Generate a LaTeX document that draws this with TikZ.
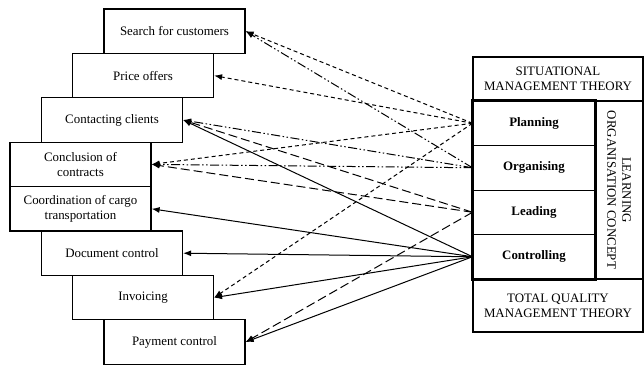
\documentclass[tikz,border=0pt]{standalone}
\usepackage{fontspec}
\setmainfont{Liberation Serif}
\usetikzlibrary{arrows.meta,positioning}
\newcommand{\diagfont}{\fontsize{12.9}{15}\selectfont}

\tikzset{
  task/.style={draw, rectangle, line width=1.2pt, minimum width=141pt, minimum height=44.4pt, align=center, inner sep=2pt},
  func/.style={draw, rectangle, line width=1pt, minimum width=122pt, minimum height=44.5pt, font=\diagfont\bfseries},
  theory/.style={draw, rectangle, line width=1.2pt, minimum width=170pt, align=center},
  link/.style={line width=1pt, -{Latex[length=8pt,width=6pt]}},
  planlink/.style={link, dash pattern=on 4pt off 3pt},
  orglink/.style={link, dash pattern=on 9pt off 2.5pt on 1.5pt off 2.5pt on 1.5pt off 2.5pt},
  leadlink/.style={link, dash pattern=on 9pt off 4pt},
  ctrllink/.style={link}
}

\begin{document}
\begin{tikzpicture}[x=1pt, y=-1pt, every node/.style={font=\diagfont}]
  \useasboundingbox (0,0) rectangle (644,365);

  % Business tasks (stepped boxes)
  \node[task] (search) at (174.5,31.2) {Search for customers};
  \node[task] (offers) at (143,75.6) {Price offers};
  \node[task] (contacting) at (112,120) {Contacting clients};
  \node[task] (conclusion) at (80.5,164.4) {Conclusion of\\contracts};
  \node[task] (coordination) at (80.5,208.8) {Coordination of cargo\\transportation};
  \node[task] (docs) at (112,253.2) {Document control};
  \node[task] (invoicing) at (143,297.6) {Invoicing};
  \node[task] (payment) at (174.5,342) {Payment control};

  % Management theories
  \node[theory, minimum height=44pt] (situational) at (558,79) {SITUATIONAL\\MANAGEMENT THEORY};
  \node[theory, minimum height=53pt] (tqm) at (558,305.5) {TOTAL QUALITY\\MANAGEMENT THEORY};

  % Management functions
  \node[func] (planning) at (534,123.25) {Planning};
  \node[func] (organising) at (534,167.75) {Organising};
  \node[func] (leading) at (534,212.25) {Leading};
  \node[func] (controlling) at (534,256.75) {Controlling};
  \draw[line width=2.5pt] (planning.north west) rectangle (controlling.south east);

  % Learning organisation column
  \node[draw, line width=1.2pt, rotate=-90, minimum width=178pt, minimum height=48pt, align=center] (learning) at (619,190) {LEARNING\\ORGANISATION CONCEPT};

  % Arrows
  \draw[planlink] (planning.west) -- (search.east);
  \draw[planlink] (planning.west) -- (offers.east);
  \draw[planlink] (planning.west) -- (conclusion.east);
  \draw[planlink] (planning.west) -- (invoicing.east);

  \draw[orglink] (organising.west) -- (search.east);
  \draw[orglink] (organising.west) -- (contacting.east);
  \draw[orglink] (organising.west) -- (conclusion.east);

  \draw[leadlink] (leading.west) -- (contacting.east);
  \draw[leadlink] (leading.west) -- (conclusion.east);
  \draw[leadlink] (leading.west) -- (payment.east);

  \draw[ctrllink] (controlling.west) -- (contacting.east);
  \draw[ctrllink] (controlling.west) -- (coordination.east);
  \draw[ctrllink] (controlling.west) -- (docs.east);
  \draw[ctrllink] (controlling.west) -- (invoicing.east);
  \draw[ctrllink] (controlling.west) -- (payment.east);
\end{tikzpicture}
\end{document}
